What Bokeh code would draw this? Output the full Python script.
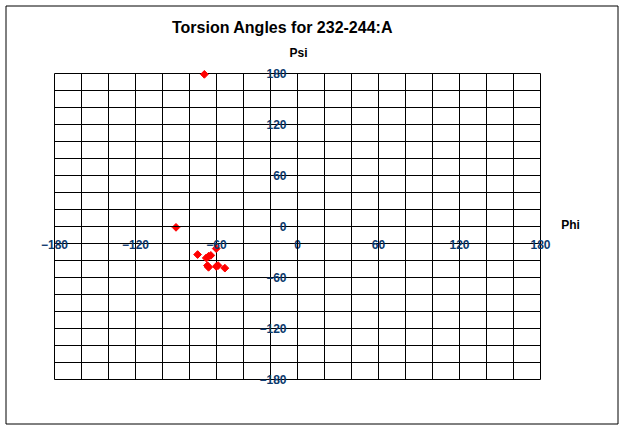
import numpy as np
from bokeh.plotting import figure
from bokeh.models import FixedTicker, Label, Range1d, Grid
from bokeh.embed import file_html
from bokeh.resources import INLINE

TITLE = "Torsion Angles for 232-244:A"
X_LABEL = "Phi"
Y_LABEL = "Psi"

# torsion angles (degrees)
phi = [-90, -69, -74, -67.6, -65.9, -64.2, -66.7, -65.9, -60.2, -58.8, -53.8, -60.2]
psi = [-1, 179, -33, -37, -35, -34, -46, -48, -47, -46, -49, -26]

major_ticks = [-180, -120, -60, 0, 60, 120, 180]
grid_ticks = list(range(-180, 181, 20))
LIM = (-180, 180)

FONT = "Liberation Sans"
TICK_COLOR = "#0b3a6e"

# layout (pixels): canvas size and where the +-180 box sits on it
W, H = 623, 429
GX0, GX1 = 54, 540
GY0, GY1 = 73, 379
sx = (GX1 - GX0) / 360.0
sy = (GY1 - GY0) / 360.0
x_range = Range1d(-180 - GX0 / sx, 180 + (W - GX1) / sx)
y_range = Range1d(-180 - (H - GY1) / sy, 180 + GY0 / sy)

# outer frame of the picture (pixels)
BX0, BX1, BY0, BY1 = 5.5, 617.5, 5.5, 423.5


def px_to_x(px):
    return -180 + (px - GX0) / sx


def py_to_y(py):
    return 180 - (py - GY0) / sy


p = figure(width=W, height=H, output_backend="svg", toolbar_location=None,
           x_range=x_range, y_range=y_range,
           min_border=0, min_border_left=0, min_border_right=0,
           min_border_top=0, min_border_bottom=0,
           background_fill_color="white", border_fill_color="white")
p.outline_line_color = None

for ax in (p.xaxis[0], p.yaxis[0]):
    ax.fixed_location = 0
    ax.bounds = LIM
    ax.ticker = FixedTicker(ticks=major_ticks, minor_ticks=grid_ticks)
    ax.major_tick_line_color = None
    ax.minor_tick_line_color = None
    ax.major_tick_in = 0
    ax.major_tick_out = 0
    ax.minor_tick_in = 0
    ax.minor_tick_out = 0
    ax.axis_line_color = "black"
    ax.major_label_text_font = FONT
    ax.major_label_text_font_style = "bold"
    ax.major_label_text_font_size = "12px"
    ax.major_label_text_color = TICK_COLOR
p.xaxis.major_label_standoff = 13
p.yaxis.major_label_standoff = 11

grid_ticker = FixedTicker(ticks=grid_ticks)
if "cross_bounds" in Grid.properties():
    for g in (p.xgrid[0], p.ygrid[0]):
        g.ticker = grid_ticker
        g.cross_bounds = LIM
        g.grid_line_color = "black"
        g.grid_line_alpha = 1
        g.grid_line_width = 1
        g.minor_grid_line_color = None
else:
    p.xgrid.visible = False
    p.ygrid.visible = False
    n = len(grid_ticks)
    p.segment(x0=grid_ticks, y0=[LIM[0]] * n, x1=grid_ticks, y1=[LIM[1]] * n,
              line_color="black", line_width=1)
    p.segment(x0=[LIM[0]] * n, y0=grid_ticks, x1=[LIM[1]] * n, y1=grid_ticks,
              line_color="black", line_width=1)

# outer picture frame
p.quad(left=[px_to_x(BX0)], right=[px_to_x(BX1)],
       top=[py_to_y(BY0)], bottom=[py_to_y(BY1)],
       fill_color=None, line_color="black", line_width=1)

p.scatter(phi, psi, marker="square", size=5.5, angle=np.pi / 4,
          fill_color="red", line_color="red")

p.add_layout(Label(x=0, y=180, x_offset=-15, y_offset=46, text=TITLE,
                   text_align="center", text_baseline="middle",
                   text_font=FONT, text_font_style="bold",
                   text_font_size="16px", text_color="black"))
p.add_layout(Label(x=0, y=180, x_offset=1, y_offset=21, text=Y_LABEL,
                   text_align="center", text_baseline="middle",
                   text_font=FONT, text_font_style="bold",
                   text_font_size="12px", text_color="black"))
p.add_layout(Label(x=180, y=0, x_offset=30, y_offset=2, text=X_LABEL,
                   text_align="center", text_baseline="middle",
                   text_font=FONT, text_font_style="bold",
                   text_font_size="12px", text_color="black"))

open("out.html", "w").write(file_html(p, INLINE))
